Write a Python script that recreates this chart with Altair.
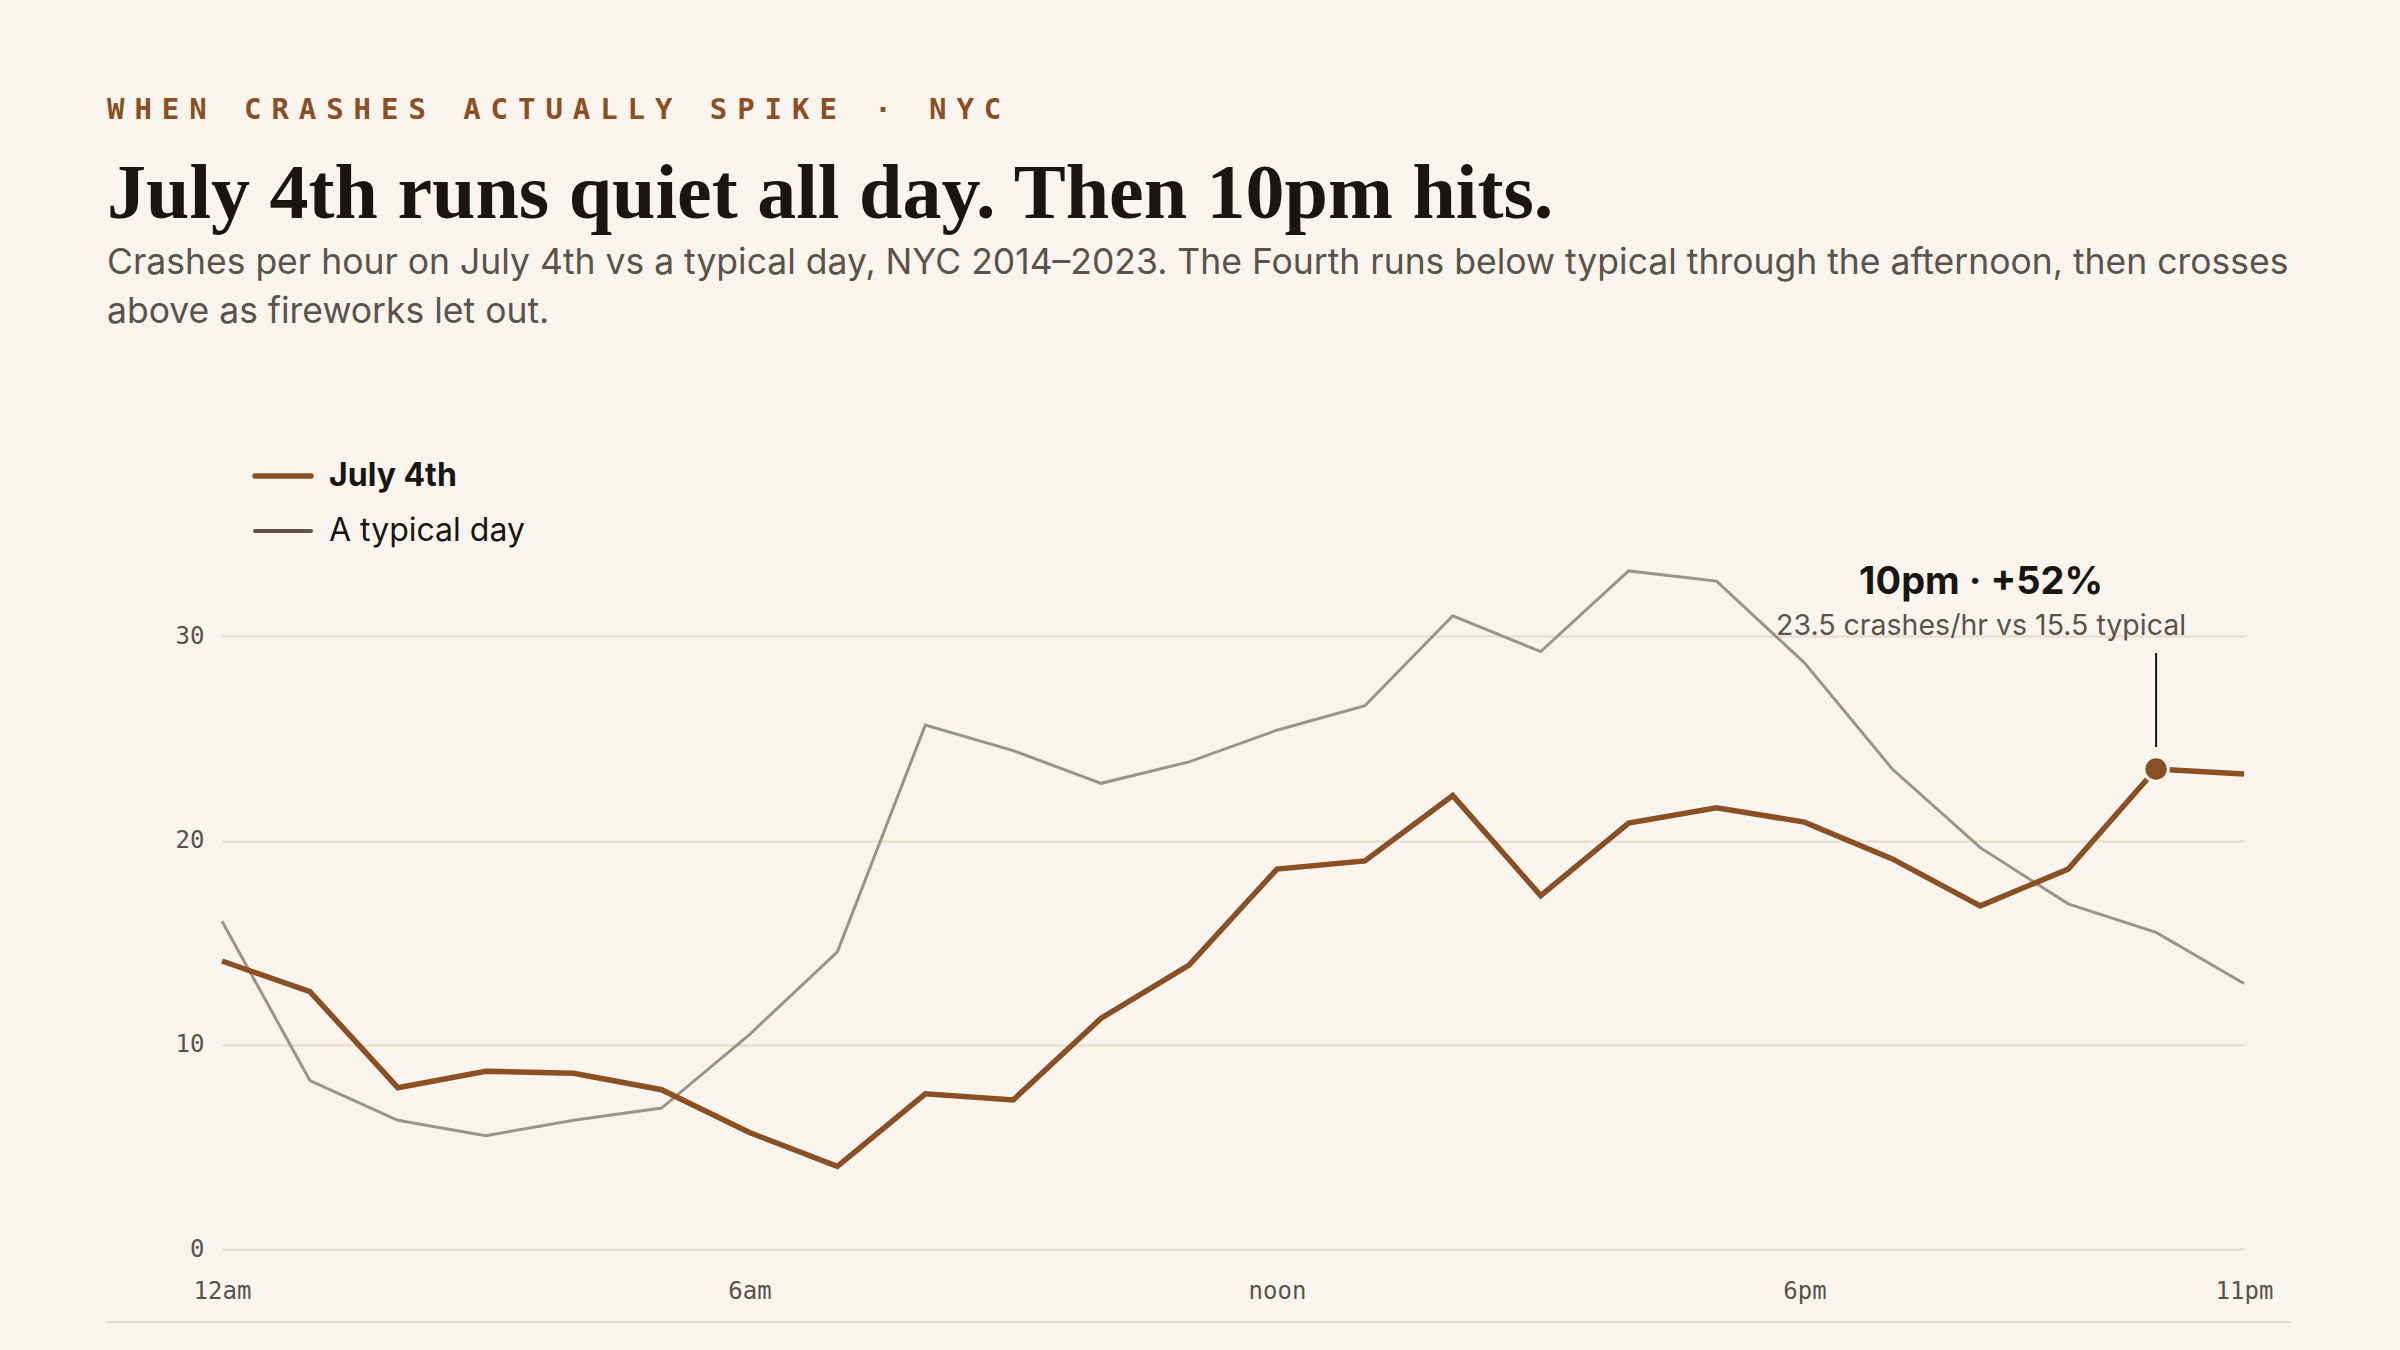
import altair as alt
import pandas as pd

# ---- data -------------------------------------------------------------
hours = list(range(24))
july4 = [14.1, 12.6, 7.9, 8.7, 8.6, 7.8, 5.7, 4.05, 7.6, 7.3, 11.3, 13.9,
         18.6, 19.0, 22.2, 17.3, 20.85, 21.6, 20.9, 19.1, 16.8, 18.6, 23.5, 23.25]
typical = [16.05, 8.25, 6.3, 5.55, 6.3, 6.9, 10.5, 14.55, 25.65, 24.4, 22.8, 23.85,
           25.4, 26.6, 31.0, 29.25, 33.2, 32.7, 28.7, 23.5, 19.65, 16.9, 15.5, 13.0]
series_names = ["July 4th", "A typical day"]

x_tick_hours = [0, 6, 12, 18, 23]
x_tick_labels = ["12am", "6am", "noon", "6pm", "11pm"]
y_ticks = [0, 10, 20, 30]

highlight_hour = 22

kicker = "WHEN CRASHES ACTUALLY SPIKE · NYC"
headline = "July 4th runs quiet all day. Then 10pm hits."
description = [
    "Crashes per hour on July 4th vs a typical day, NYC 2014–2023. The Fourth runs below typical through the afternoon, then crosses",
    "above as fireworks let out.",
]

# ---- style ------------------------------------------------------------
BG = "#f9f5ee"
BROWN = "#8b4f24"
GREY_LINE = "#9a948a"
GREY_KEY = "#5f574f"
INK = "#1a1510"
MUTED = "#5b5249"
GRID = "#e6ddc9"
MONO = "DejaVu Sans Mono"
SANS = "Inter"
SERIF = "Liberation Serif"

W, H = 2022, 817
PAD = {"left": 222, "top": 432, "right": 156, "bottom": 101}


def hour_label(h):
    if h == 0:
        return "12am"
    if h == 12:
        return "noon"
    return f"{h % 12}{'am' if h < 12 else 'pm'}"


df = pd.DataFrame({
    "hour": hours * 2,
    "value": july4 + typical,
    "series": [series_names[0]] * 24 + [series_names[1]] * 24,
})

label_expr = "''"
for h, lab in reversed(list(zip(x_tick_hours, x_tick_labels))):
    label_expr = f"datum.value == {h} ? '{lab}' : {label_expr}"

x_enc = alt.X(
    "hour:Q",
    scale=alt.Scale(domain=[0, 23], nice=False, zero=False),
    axis=alt.Axis(values=x_tick_hours, labelExpr=label_expr, grid=False, domain=False,
                  ticks=False, labelFlush=False, labelPadding=30, labelFont=MONO,
                  labelFontSize=24, labelColor=MUTED, title=None),
)
y_enc = alt.Y(
    "value:Q",
    scale=alt.Scale(domain=[0, 40], nice=False),
    axis=alt.Axis(values=y_ticks, grid=True, gridColor=GRID, gridWidth=2, domain=False,
                  ticks=False, labelPadding=18, labelFont=MONO, labelFontSize=24,
                  labelColor=MUTED, title=None),
)

base = alt.Chart(df)

typical_line = base.transform_filter(
    alt.datum.series == series_names[1]
).mark_line(color=GREY_LINE, strokeWidth=3).encode(x=x_enc, y=y_enc)

july_line = base.transform_filter(
    alt.datum.series == series_names[0]
).mark_line(color=BROWN, strokeWidth=5.5).encode(x="hour:Q", y="value:Q")

# highlighted hour
j_val = july4[hours.index(highlight_hour)]
t_val = typical[hours.index(highlight_hour)]
pct = round((j_val / t_val - 1) * 100)
hl = pd.DataFrame({
    "hour": [highlight_hour],
    "value": [j_val],
    "head": [f"{hour_label(highlight_hour)} · +{pct}%"],
    "detail": [f"{j_val} crashes/hr vs {t_val} typical"],
})
hl_base = alt.Chart(hl).encode(x="hour:Q", y="value:Q")

leader = hl_base.mark_rule(color=INK, strokeWidth=2, yOffset=-22, y2Offset=-116).encode(y2="value:Q")
dot = hl_base.mark_point(filled=True, fill=BROWN, size=600, stroke=BG, strokeWidth=3, opacity=1)
ann_head = hl_base.mark_text(font=SANS, fontSize=38, fontWeight="bold", color=INK,
                             align="center", baseline="middle", dx=-175, dy=-186).encode(text="head:N")
ann_detail = hl_base.mark_text(font=SANS, fontSize=28.5, color=MUTED,
                               align="center", baseline="middle", dx=-175, dy=-143).encode(text="detail:N")

# legend key
def key_layer(name, color, width, y, weight):
    d = pd.DataFrame({"series": [name]})
    swatch = alt.Chart(d).mark_rule(color=color, strokeWidth=width, strokeCap="round").encode(
        x=alt.value(33), x2=alt.value(89), y=alt.value(y))
    label = alt.Chart(d).mark_text(font=SANS, fontSize=32, fontWeight=weight, color=INK,
                                   align="left", baseline="middle").encode(
        x=alt.value(107), y=alt.value(y), text="series:N")
    return swatch + label

key_july = key_layer(series_names[0], BROWN, 5.5, 44, "bold")
key_typ = key_layer(series_names[1], GREY_KEY, 4, 99, "normal")

# header block: kicker set one glyph per slot for wide tracking
kick_df = pd.DataFrame({"ch": list(kicker), "i": list(range(len(kicker)))})
kick_df = kick_df[kick_df.ch != " "]
kicker_layer = alt.Chart(kick_df).transform_calculate(
    px="-115 + datum.i * 27.4"
).mark_text(font=MONO, fontSize=29, fontWeight=600, color=BROWN, align="left",
            baseline="alphabetic").encode(
    x=alt.X("px:Q", scale=None), y=alt.value(-313), text="ch:N")

head_layer = alt.Chart(pd.DataFrame({"t": [headline]})).mark_text(
    font=SERIF, fontSize=78, fontWeight="bold", color=INK, align="left", baseline="alphabetic"
).encode(x=alt.value(-115), y=alt.value(-214), text="t:N")

desc_layers = [
    alt.Chart(pd.DataFrame({"t": [line]})).mark_text(
        font=SANS, fontSize=35.5, color=MUTED, align="left", baseline="alphabetic"
    ).encode(x=alt.value(-115), y=alt.value(-158 + 49 * k), text="t:N")
    for k, line in enumerate(description)
]

footer_rule = alt.Chart(pd.DataFrame({"a": [0]})).mark_rule(color="#e3dac6", strokeWidth=2).encode(
    x=alt.value(-115), x2=alt.value(2069), y=alt.value(890))

chart = alt.layer(
    typical_line, july_line, leader, dot, ann_head, ann_detail,
    key_july, key_typ, kicker_layer, head_layer, *desc_layers, footer_rule,
).properties(
    width=W, height=H, padding=PAD,
    autosize=alt.AutoSizeParams(type="none"),
    background=BG,
).configure_view(stroke=None)

chart.save("out.html", embed_options={"renderer": "svg", "actions": False})
